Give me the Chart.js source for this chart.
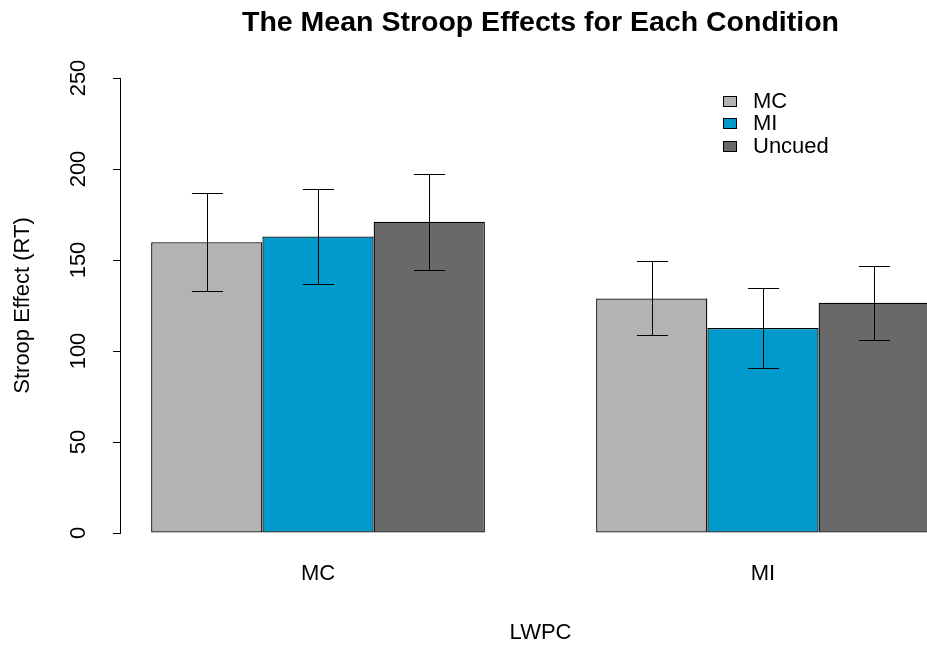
<!DOCTYPE html>
<html>
<head>
<meta charset="utf-8">
<script src="https://cdn.jsdelivr.net/npm/chart.js@4.4.1/dist/chart.umd.min.js"></script>
<style>
  html, body { margin: 0; padding: 0; background: #fff; overflow: hidden; }
  /* plot region runs a little past the right edge of the window, like the original */
  #wrap { width: 961px; height: 646px; }
</style>
</head>
<body>
<div id="wrap"><canvas id="chart"></canvas></div>
<script>
/* ================= DATA ================= */
const groups = ["MC", "MI"]; // LWPC
const conditions = ["MC", "MI", "Uncued"];
const mcMeans = [159.8, 128.9];
const miMeans = [162.9, 112.6];
const uncuedMeans = [171.0, 126.5];
const mcErr = [26.8, 20.3];
const miErr = [26.0, 21.9];
const uncuedErr = [26.3, 20.3];
const yTicks = [0, 50, 100, 150, 200, 250];
const colors = ["#b3b3b3", "#009acd", "#696969"];

const FONT = "'Liberation Sans', Arial, sans-serif";
Chart.defaults.font.family = FONT;
Chart.defaults.color = "#000";

const toPoints = (vals) => vals.map((v, i) => ({ x: i, y: v }));
const means = [mcMeans, miMeans, uncuedMeans];
const errs = [mcErr, miErr, uncuedErr];

/* ================= PLUGINS ================= */
const errorBars = {
  id: "errorBars",
  afterDatasetsDraw(chart) {
    const ctx = chart.ctx;
    const y = chart.scales.y;
    ctx.save();
    ctx.strokeStyle = "#000";
    ctx.lineWidth = 1;
    chart.data.datasets.forEach((ds, di) => {
      chart.getDatasetMeta(di).data.forEach((bar, i) => {
        const v = ds.data[i].y;
        const e = ds.errors[i];
        const top = Math.round(y.getPixelForValue(v + e)) + 0.5;
        const bot = Math.round(y.getPixelForValue(v - e)) + 0.5;
        const x = Math.round(bar.x) + 0.5;
        const cap = bar.width * 0.14;
        ctx.beginPath();
        ctx.moveTo(x, top);
        ctx.lineTo(x, bot);
        ctx.moveTo(x - cap, top);
        ctx.lineTo(x + cap, top);
        ctx.moveTo(x - cap, bot);
        ctx.lineTo(x + cap, bot);
        ctx.stroke();
      });
    });
    ctx.restore();
  },
};

const legendBox = {
  id: "legendBox",
  afterDraw(chart) {
    const ctx = chart.ctx;
    ctx.save();
    ctx.font = "22px " + FONT;
    ctx.textBaseline = "middle";
    chart.data.datasets.forEach((ds, i) => {
      const cy = Math.round(101.5 + i * 22.5);
      ctx.fillStyle = ds.backgroundColor;
      ctx.fillRect(723.5, cy - 5.5, 13, 10);
      ctx.strokeStyle = "#000";
      ctx.lineWidth = 1;
      ctx.strokeRect(723.5, cy - 5.5, 13, 10);
      ctx.fillStyle = "#000";
      ctx.fillText(ds.label, 753, cy);
    });
    ctx.restore();
  },
};

/* ================= CHART ================= */
new Chart(document.getElementById("chart"), {
  type: "bar",
  data: {
    datasets: conditions.map((c, i) => ({
      label: c,
      data: toPoints(means[i]),
      errors: errs[i],
      backgroundColor: colors[i],
      borderColor: "#000",
      borderWidth: 1.3,
      borderSkipped: false,
      categoryPercentage: 0.75,
      barPercentage: 1,
    })),
  },
  options: {
    responsive: true,
    maintainAspectRatio: false,
    animation: false,
    plugins: {
      legend: { display: false },
      tooltip: { enabled: false },
      title: {
        display: true,
        text: "The Mean Stroop Effects for Each Condition",
        fullSize: false,
        color: "#000",
        font: { size: 28.5, weight: "bold" },
        padding: { top: 6, bottom: 37.8 },
      },
    },
    scales: {
      x: {
        type: "linear",
        offset: false,
        min: -0.445,
        max: 1.445,
        afterBuildTicks: (s) => {
          s.ticks = groups.map((g, i) => ({ value: i }));
        },
        afterFit: (s) => {
          s.height = 113;
        },
        ticks: {
          callback: (v) => groups[v] ?? "",
          font: { size: 22 },
          padding: 28,
          autoSkip: false,
          maxRotation: 0,
        },
        grid: { display: false, drawTicks: false, offset: false },
        border: { display: false },
        title: {
          display: true,
          text: "LWPC",
          font: { size: 22 },
          padding: { top: 0, bottom: 0 },
        },
      },
      y: {
        min: 0,
        max: 250,
        afterBuildTicks: (s) => {
          s.ticks = yTicks.map((v) => ({ value: v }));
        },
        afterFit: (s) => {
          s.width = 120;
        },
        ticks: {
          font: { size: 22 },
          minRotation: 90,
          maxRotation: 90,
          crossAlign: "center",
          padding: 16,
          autoSkip: false,
        },
        grid: {
          drawOnChartArea: false,
          drawTicks: true,
          tickLength: 7,
          color: "#000",
        },
        border: { display: true, color: "#000" },
        title: {
          display: true,
          text: "Stroop Effect (RT)",
          font: { size: 22 },
          padding: { top: 10, bottom: 0 },
        },
      },
    },
  },
  plugins: [errorBars, legendBox],
});
</script>
</body>
</html>
